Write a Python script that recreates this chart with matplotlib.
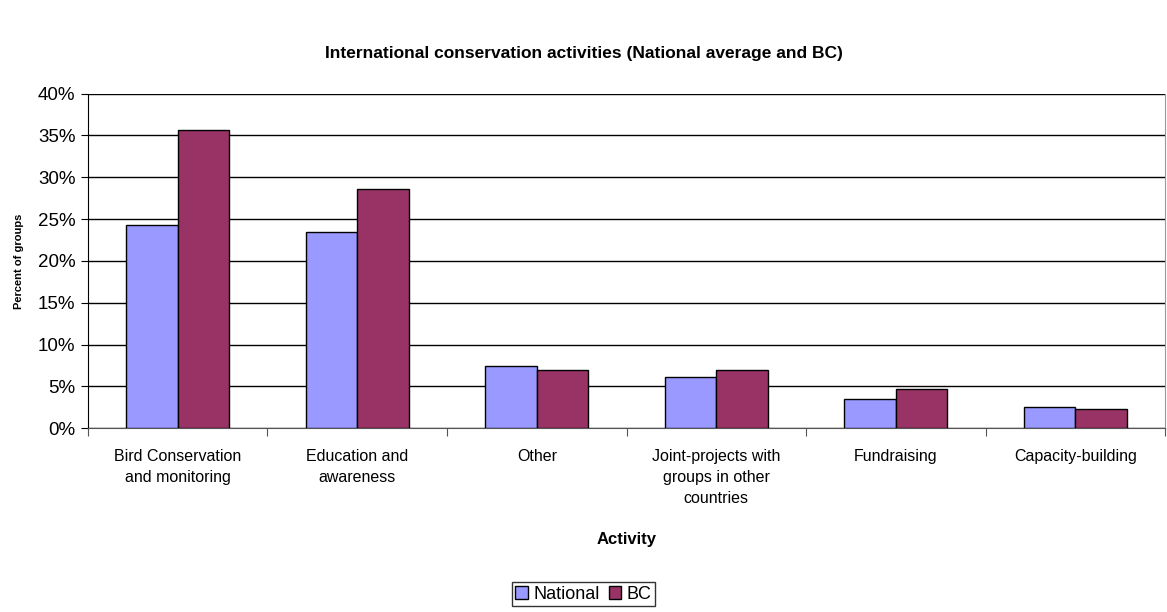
import matplotlib.pyplot as plt
import numpy as np
from matplotlib.ticker import PercentFormatter

plt.rcParams['font.family'] = ['Liberation Sans', 'DejaVu Sans']

categories = ['Bird Conservation\nand monitoring', 'Education and\nawareness', 'Other',
              'Joint-projects with\ngroups in other\ncountries', 'Fundraising', 'Capacity-building']
national = [24.3, 23.5, 7.5, 6.1, 3.5, 2.6]
bc = [35.7, 28.6, 7.0, 7.0, 4.7, 2.3]

fig = plt.figure(figsize=(11.67, 6.12), dpi=100)
ax = fig.add_axes([0.0754, 0.3002, 0.9229, 0.547])

x = np.arange(len(categories))
w = 0.287
ax.bar(x - w/2, national, w, color='#9999FF', edgecolor='black', linewidth=1, label='National', zorder=3)
ax.bar(x + w/2, bc, w, color='#993366', edgecolor='black', linewidth=1, label='BC', zorder=3)

ax.set_xlim(-0.5, len(categories) - 0.5)
ax.set_ylim(0, 40)
ax.set_yticks(np.arange(0, 41, 5))
ax.yaxis.set_major_formatter(PercentFormatter(decimals=0))
ax.yaxis.grid(True, color='black', linewidth=1, zorder=0)
ax.tick_params(axis='y', labelsize=13.5, length=5, direction='out', pad=4)

# category boundaries as ticks, labels in the middle
ax.set_xticks(np.arange(len(categories) + 1) - 0.5)
ax.set_xticklabels([])
ax.set_xticks(x, minor=True)
ax.set_xticklabels(categories, minor=True, fontsize=11.5, linespacing=1.5)
ax.tick_params(axis='x', which='major', length=6, color='#555555')
ax.tick_params(axis='x', which='minor', length=0, pad=15)

ax.spines['top'].set_visible(False)
ax.spines['right'].set_color('#999999')
ax.spines['bottom'].set_color('#555555')
ax.spines['left'].set_color('black')

ax.set_xlabel('Activity', fontsize=12, fontweight='bold', labelpad=19)
ax.set_ylabel('Percent of groups', fontsize=8, fontweight='bold', labelpad=10)
fig.suptitle('International conservation activities (National average and BC)',
             fontsize=12.5, fontweight='bold', y=0.925)

leg = fig.legend(loc='center', bbox_to_anchor=(0.5, 0.029), ncol=2, fontsize=13,
                 frameon=True, fancybox=False, edgecolor='black', handlelength=0.7,
                 handleheight=0.7, handletextpad=0.3, columnspacing=0.5,
                 borderpad=0.2, borderaxespad=0)
leg.get_frame().set_linewidth(1)

fig.savefig('out.png', dpi=100)
